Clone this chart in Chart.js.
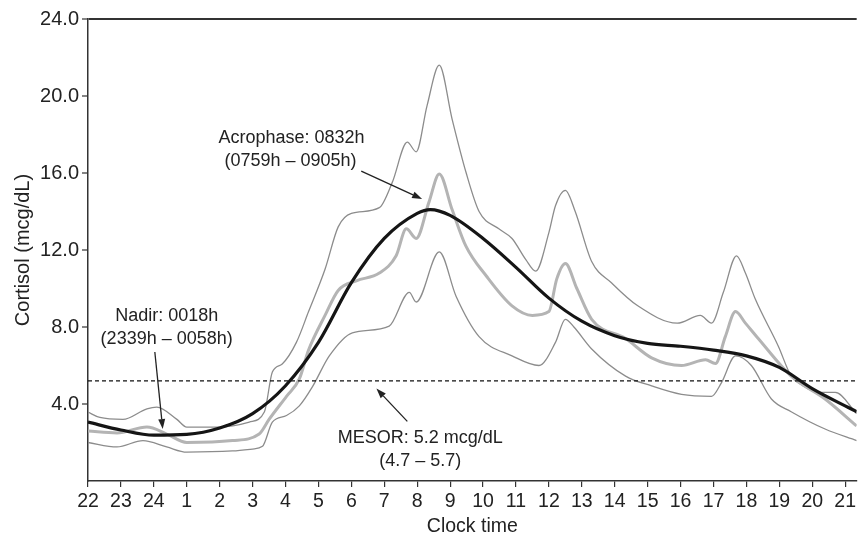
<!DOCTYPE html>
<html lang="en">
<head>
<meta charset="UTF-8">
<title>Cortisol circadian rhythm</title>
<script src="https://cdn.jsdelivr.net/npm/chart.js@4"></script>
<style>body { margin: 0; background: #fff; }</style>
</head>
<body>
<canvas id="cortisolChart" width="859" height="536"></canvas>
<script>
// x values are hours after 22:00
const hourLabels = ['22', '23', '24', '1', '2', '3', '4', '5', '6', '7', '8', '9', '10',
  '11', '12', '13', '14', '15', '16', '17', '18', '19', '20', '21'];
const yTicks = [4, 8, 12, 16, 20, 24];
const mesorValue = 5.2;

// cosinor fit (thick black)
const fitTimes = [0, 1, 2, 3, 4, 5, 6, 7, 8, 9, 10, 10.4, 11, 12, 13, 14, 15, 16, 17, 18, 19, 20, 21, 22, 23, 23.35];
const fitValues = [3.06, 2.65, 2.38, 2.42, 2.75, 3.5, 4.95, 7.2, 10.3, 12.6, 13.9, 14.1, 13.8, 12.6, 11.1, 9.5, 8.3, 7.55, 7.15, 7.0, 6.8, 6.5, 5.9, 4.8, 3.9, 3.6];

// measured mean (light gray)
const meanTimes = [0, 0.88, 1.79, 2.39, 3.0, 4.39, 5.2, 5.5, 6.03, 6.42, 6.7, 7.2, 7.6, 8.15, 8.85, 9.36, 9.67, 9.97, 10.36, 10.67, 11.06, 11.48, 12.1, 12.88, 13.5, 14.0, 14.24, 14.5, 14.85, 15.3, 16.33, 17.12, 18.03, 18.76, 19.06, 19.36, 19.67, 19.97, 20.36, 21.36, 22.39, 23.35];
const meanValues = [2.6, 2.5, 2.8, 2.44, 2.0, 2.1, 2.44, 3.2, 4.4, 5.3, 6.8, 8.6, 9.9, 10.4, 10.8, 11.7, 13.1, 12.6, 14.5, 15.95, 14.1, 12.2, 10.65, 9.1, 8.6, 8.8, 10.5, 11.3, 10.0, 8.4, 7.4, 6.4, 6.0, 6.3, 6.1, 7.5, 8.8, 8.2, 7.4, 5.45, 4.26, 2.86];

// upper band
const upperTimes = [0, 0.36, 1.06, 1.79, 2.09, 2.7, 3.0, 3.9, 4.9, 5.36, 5.6, 5.9, 6.33, 6.7, 7.2, 7.6, 8.0, 8.85, 9.24, 9.7, 9.97, 10.3, 10.67, 11.06, 11.48, 11.88, 12.48, 12.88, 13.3, 13.6, 14.0, 14.2, 14.5, 14.8, 15.3, 15.9, 16.7, 17.9, 18.6, 18.94, 19.3, 19.7, 19.97, 20.27, 20.97, 21.36, 21.67, 22.18, 22.7, 23.35];
const upperValues = [3.58, 3.3, 3.2, 3.75, 3.84, 3.2, 2.8, 2.8, 3.06, 3.6, 5.66, 6.08, 7.2, 8.8, 11.0, 13.2, 13.9, 14.2, 15.5, 17.6, 17.1, 19.5, 21.6, 18.8, 16.05, 14.0, 13.1, 12.6, 11.5, 10.9, 12.9, 14.3, 15.1, 14.0, 11.4, 10.3, 9.1, 8.2, 8.6, 8.2, 9.8, 11.7, 10.8, 9.45, 7.0, 5.45, 5.0, 4.6, 4.6, 3.5];

// lower band
const lowerTimes = [0, 0.88, 1.67, 2.39, 3.0, 4.39, 5.0, 5.3, 5.6, 6.03, 6.42, 6.82, 7.33, 8.03, 9.15, 9.76, 9.97, 10.67, 11.18, 11.88, 12.88, 13.7, 14.2, 14.5, 14.76, 15.3, 16.33, 17.12, 18.03, 18.94, 19.24, 19.67, 20.15, 20.76, 21.36, 22.39, 23.35];
const lowerValues = [2.0, 1.77, 2.1, 1.77, 1.5, 1.56, 1.66, 1.8, 3.06, 3.4, 3.9, 4.9, 6.5, 7.7, 8.05, 9.8, 9.3, 11.9, 9.6, 7.5, 6.5, 6.0, 7.2, 8.4, 8.0, 6.86, 5.45, 4.94, 4.5, 4.4, 5.1, 6.5, 6.0, 4.26, 3.6, 2.7, 2.1];

const xMax = 23.35;
const toPoints = (ts, vs) => ts.map((t, i) => ({ x: t, y: vs[i] }));
const fontFamily = '"Liberation Sans", Arial, Helvetica, sans-serif';

// text labels and arrows, placed in data coordinates
const annotationPlugin = {
  id: 'notes',
  afterDatasetsDraw(chart) {
    const { ctx, scales: { x, y } } = chart;
    const px = t => x.getPixelForValue(t);
    const py = v => y.getPixelForValue(v);

    ctx.save();
    ctx.fillStyle = '#222';
    ctx.font = '18px ' + fontFamily;
    ctx.textAlign = 'center';
    ctx.textBaseline = 'middle';
    const texts = [
      [6.18, 17.82, 'Acrophase: 0832h'],
      [6.15, 16.6, '(0759h \u2013 0905h)'],
      [2.39, 8.57, 'Nadir: 0018h'],
      [2.39, 7.38, '(2339h \u2013 0058h)'],
      [10.09, 2.23, 'MESOR: 5.2 mcg/dL'],
      [10.09, 1.04, '(4.7 \u2013 5.7)']
    ];
    texts.forEach(([t, v, s]) => ctx.fillText(s, px(t), py(v)));

    const arrows = [
      [8.3, 16.1, 10.15, 14.65],
      [2.03, 6.7, 2.27, 2.7],
      [9.7, 3.1, 8.76, 4.8]
    ];
    ctx.strokeStyle = '#222';
    ctx.lineWidth = 1.3;
    arrows.forEach(([t0, v0, t1, v1]) => {
      const x0 = px(t0), y0 = py(v0), x1 = px(t1), y1 = py(v1);
      const a = Math.atan2(y1 - y0, x1 - x0);
      const len = 10, hw = 3.5;
      const bx = x1 - len * Math.cos(a), by = y1 - len * Math.sin(a);
      ctx.beginPath();
      ctx.moveTo(x0, y0);
      ctx.lineTo(bx, by);
      ctx.stroke();
      ctx.beginPath();
      ctx.moveTo(x1, y1);
      ctx.lineTo(bx + hw * Math.sin(a), by - hw * Math.cos(a));
      ctx.lineTo(bx - hw * Math.sin(a), by + hw * Math.cos(a));
      ctx.closePath();
      ctx.fill();
    });
    ctx.restore();
  }
};

const ctx = document.getElementById('cortisolChart').getContext('2d');
new Chart(ctx, {
  type: 'line',
  data: {
    datasets: [
      {
        label: 'Cosinor fit',
        data: toPoints(fitTimes, fitValues),
        borderColor: '#151515',
        borderWidth: 3.2,
        pointRadius: 0,
        cubicInterpolationMode: 'monotone'
      },
      {
        label: 'MESOR',
        data: [{ x: 0, y: mesorValue }, { x: xMax, y: mesorValue }],
        borderColor: '#111',
        borderWidth: 1.3,
        borderDash: [4, 3],
        pointRadius: 0
      },
      {
        label: 'Mean',
        data: toPoints(meanTimes, meanValues),
        borderColor: '#b4b4b4',
        borderWidth: 3,
        pointRadius: 0,
        cubicInterpolationMode: 'monotone'
      },
      {
        label: 'Upper',
        data: toPoints(upperTimes, upperValues),
        borderColor: '#8c8c8c',
        borderWidth: 1.3,
        pointRadius: 0,
        cubicInterpolationMode: 'monotone'
      },
      {
        label: 'Lower',
        data: toPoints(lowerTimes, lowerValues),
        borderColor: '#8c8c8c',
        borderWidth: 1.3,
        pointRadius: 0,
        cubicInterpolationMode: 'monotone'
      }
    ]
  },
  options: {
    responsive: false,
    animation: false,
    devicePixelRatio: 1,
    layout: { padding: { top: 19, right: 0, left: 0, bottom: 0 } },
    plugins: { legend: { display: false }, tooltip: { enabled: false } },
    scales: {
      x: {
        type: 'linear',
        min: 0,
        max: xMax,
        afterFit: s => { s.height = 55; },
        ticks: {
          stepSize: 1,
          includeBounds: false,
          autoSkip: false,
          maxRotation: 0,
          padding: 3,
          color: '#222',
          font: { size: 19.5, family: fontFamily },
          callback: v => hourLabels[v]
        },
        grid: { drawOnChartArea: false, tickLength: 6, color: '#333', lineWidth: 1.2 },
        border: { color: '#333', width: 1.5 },
        title: {
          display: true,
          text: 'Clock time',
          color: '#222',
          padding: 0,
          font: { size: 19.5, family: fontFamily, lineHeight: 1 }
        }
      },
      y: {
        min: 0,
        max: 24,
        afterFit: s => { s.width = 88; },
        afterBuildTicks: s => { s.ticks = yTicks.map(v => ({ value: v })); },
        ticks: {
          padding: 3,
          color: '#222',
          font: { size: 20, family: fontFamily },
          callback: v => v.toFixed(1)
        },
        grid: {
          color: c => (c.tick && c.tick.value === 24 ? '#333' : 'rgba(0,0,0,0)'),
          lineWidth: 2,
          tickColor: '#333',
          tickWidth: 1.2,
          tickLength: 6
        },
        border: { color: '#333', width: 1.5 },
        title: {
          display: true,
          text: 'Cortisol (mcg/dL)',
          color: '#222',
          padding: { top: 13, bottom: 0 },
          font: { size: 20, family: fontFamily, lineHeight: 1 }
        }
      }
    }
  },
  plugins: [annotationPlugin]
});
</script>
</body>
</html>
